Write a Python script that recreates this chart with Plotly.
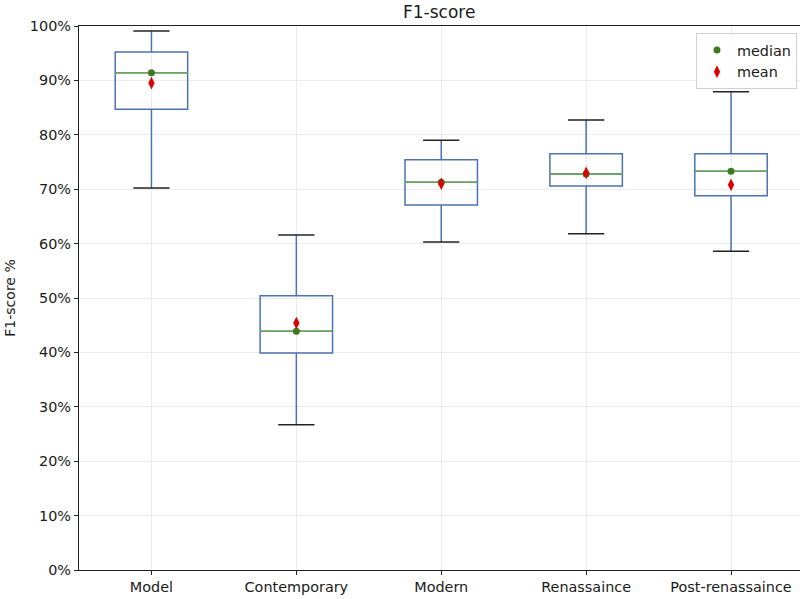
import plotly.graph_objects as go

categories = ["Model", "Contemporary", "Modern", "Renassaince", "Post-renassaince"]
whisker_low = [70.2, 26.7, 60.3, 61.8, 58.6]
q1 = [84.7, 39.9, 67.1, 70.6, 68.8]
median = [91.4, 43.9, 71.3, 72.8, 73.3]
q3 = [95.2, 50.4, 75.4, 76.5, 76.5]
whisker_high = [99.1, 61.6, 79.0, 82.7, 87.9]
mean = [89.5, 45.4, 71.0, 73.0, 70.8]
y_ticks = [0, 10, 20, 30, 40, 50, 60, 70, 80, 90, 100]
y_tick_labels = [f"{v}%" for v in y_ticks]

BOX_W = 0.5
CAP_W = 0.25
xs = list(range(len(categories)))

fig = go.Figure()

fig.add_trace(go.Box(
    x=xs, q1=q1, median=median, q3=q3,
    lowerfence=whisker_low, upperfence=whisker_high,
    width=BOX_W, whiskerwidth=0.0001,
    line=dict(color="#4c72b0", width=1.5),
    fillcolor="rgba(0,0,0,0)",
    showlegend=False, hoverinfo="skip",
))

# caps
cx, cy = [], []
for i, lo, hi in zip(xs, whisker_low, whisker_high):
    for v in (lo, hi):
        cx += [i - CAP_W / 2, i + CAP_W / 2, None]
        cy += [v, v, None]
fig.add_trace(go.Scatter(x=cx, y=cy, mode="lines",
                         line=dict(color="#222222", width=1.5),
                         showlegend=False, hoverinfo="skip"))

# median lines
mx, my = [], []
for i, m in zip(xs, median):
    mx += [i - BOX_W / 2, i + BOX_W / 2, None]
    my += [m, m, None]
fig.add_trace(go.Scatter(x=mx, y=my, mode="lines",
                         line=dict(color="#6aa84f", width=1.5),
                         showlegend=False, hoverinfo="skip"))

fig.add_trace(go.Scatter(x=xs, y=median, mode="markers", name="median",
                         marker=dict(symbol="circle", size=7, color="#3d7a1f")))
fig.add_trace(go.Scatter(x=xs, y=mean, mode="markers", name="mean",
                         marker=dict(symbol="diamond-tall", size=9, color="#e00000")))

fig.update_layout(
    width=800, height=599,
    margin=dict(l=79, r=0, t=26, b=29),
    plot_bgcolor="white", paper_bgcolor="white",
    font=dict(family="DejaVu Sans", size=14.4, color="#1a1a1a"),
    title=dict(text="F1-score", x=0.549, xanchor="center", y=0.98, yanchor="middle",
               font=dict(size=17)),
    legend=dict(x=0.9958, y=0.987, xanchor="right", yanchor="top",
                bgcolor="rgba(255,255,255,0.8)", bordercolor="#d0d0d0", borderwidth=1,
                font=dict(size=14.4), itemwidth=30, tracegroupgap=0),
    xaxis=dict(
        range=[-0.5, 4.476], tickmode="array", tickvals=xs, ticktext=categories,
        showgrid=True, gridcolor="#ececec", zeroline=False, automargin=False,
        showline=True, linecolor="#222222", linewidth=1.2, mirror=True,
        ticks="outside", ticklen=4, tickcolor="#222222",
    ),
    yaxis=dict(
        range=[0, 100], tickmode="array", tickvals=y_ticks, ticktext=y_tick_labels,
        title=dict(text="F1-score %", standoff=10, font=dict(size=14)),
        showgrid=True, gridcolor="#ececec", zeroline=False, automargin=False,
        showline=True, linecolor="#222222", linewidth=1.2,
        ticks="outside", ticklen=4, tickcolor="#222222",
    ),
)

fig.write_html("out.html", config={"displayModeBar": False},
               post_script="document.body.style.margin='0';")
